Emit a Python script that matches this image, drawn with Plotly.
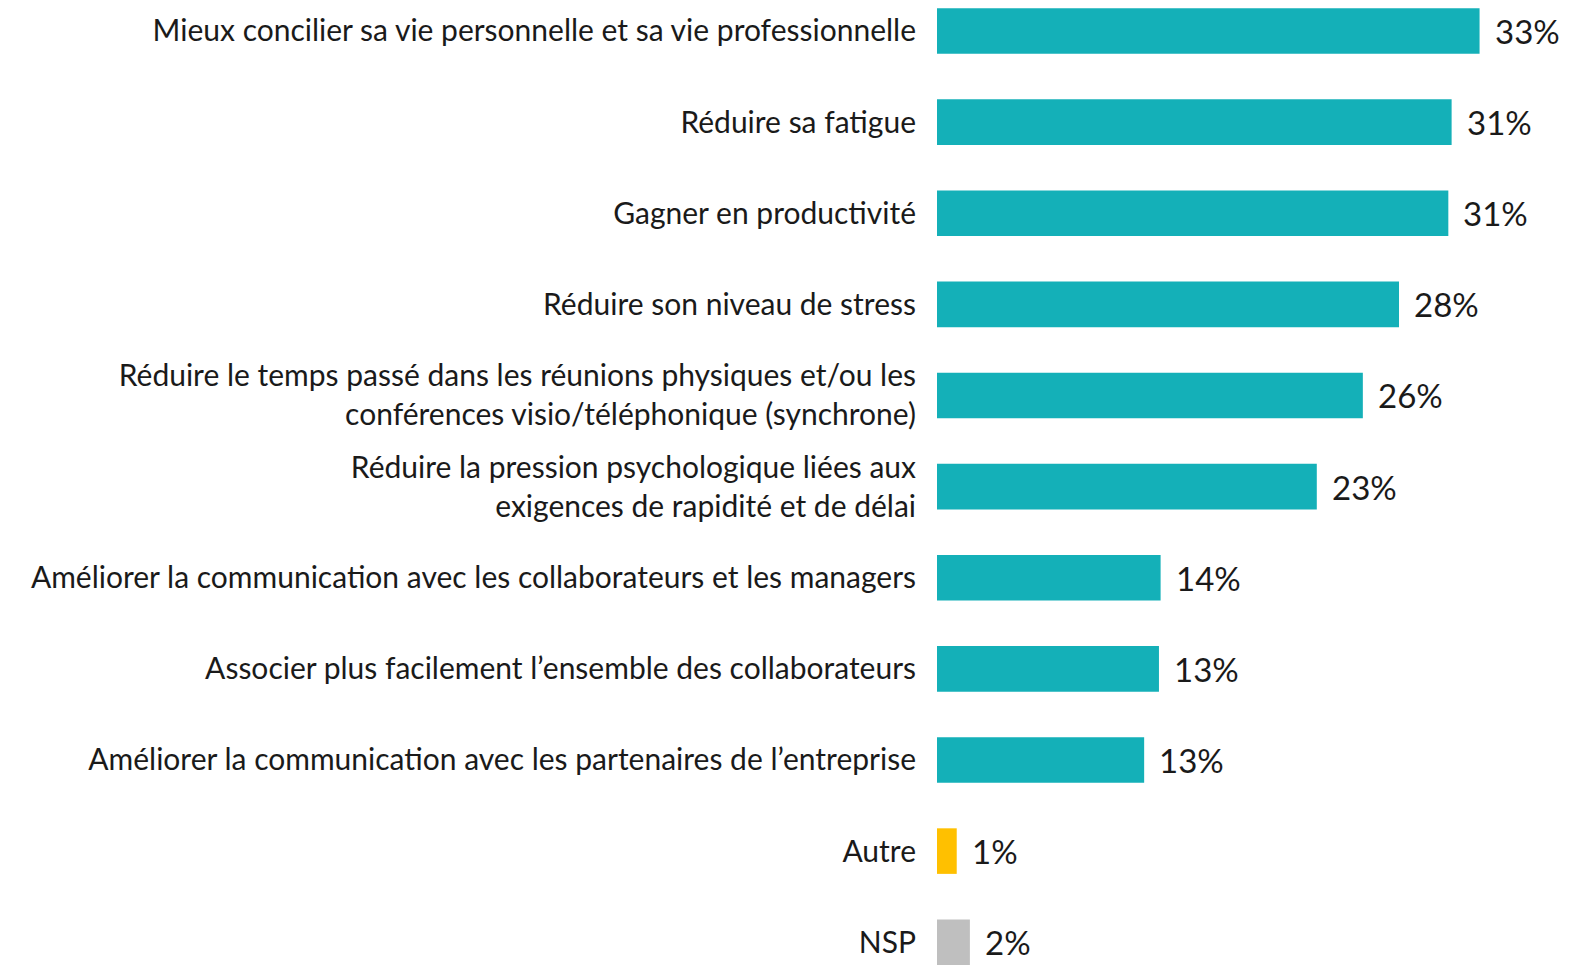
import plotly.graph_objects as go

categories = [
    "Mieux concilier sa vie personnelle et sa vie professionnelle",
    "Réduire sa fatigue",
    "Gagner en productivité",
    "Réduire son niveau de stress",
    "Réduire le temps passé dans les réunions physiques et/ou les<br>conférences visio/téléphonique (synchrone)",
    "Réduire la pression psychologique liées aux<br>exigences de rapidité et de délai",
    "Améliorer la communication avec les collaborateurs et les managers",
    "Associer plus facilement l’ensemble des collaborateurs",
    "Améliorer la communication avec les partenaires de l’entreprise",
    "Autre",
    "NSP",
]
values = [33.0, 31.3, 31.1, 28.1, 25.9, 23.1, 13.6, 13.5, 12.6, 1.2, 2.0]
value_labels = ["33%", "31%", "31%", "28%", "26%", "23%", "14%", "13%", "13%", "1%", "2%"]
colors = ["#14B0B8"] * 9 + ["#FFC000", "#BFBFBF"]

fig = go.Figure(
    go.Bar(
        y=categories,
        x=values,
        orientation="h",
        marker=dict(color=colors, line=dict(width=0)),
        width=0.5,
        hoverinfo="skip",
    )
)

for c, v, t in zip(categories, values, value_labels):
    fig.add_annotation(
        x=v, y=c, text=t, showarrow=False, xanchor="left", yanchor="middle",
        xshift=13, font=dict(family="Lato", size=33, color="#1a1a1a"),
    )

fig.update_layout(
    width=1570, height=965,
    margin=dict(l=937, r=0, t=0, b=0, autoexpand=False),
    paper_bgcolor="white", plot_bgcolor="white",
    showlegend=False,
    font=dict(family="Lato", size=30, color="#1a1a1a"),
    xaxis=dict(range=[0, 38.5], visible=False, fixedrange=True, automargin=False),
    yaxis=dict(
        categoryorder="array", categoryarray=categories, automargin=False,
        range=[10.25, -0.34], showgrid=False, zeroline=False, showline=False,
        ticks="", ticklabelstandoff=20, tickfont=dict(family="Lato", size=30, color="#1a1a1a"),
        fixedrange=True,
    ),
)

fig.write_html(
    "out.html",
    config={"displayModeBar": False},
    post_script="document.body.style.margin='0';document.body.style.overflow='hidden';",
)
